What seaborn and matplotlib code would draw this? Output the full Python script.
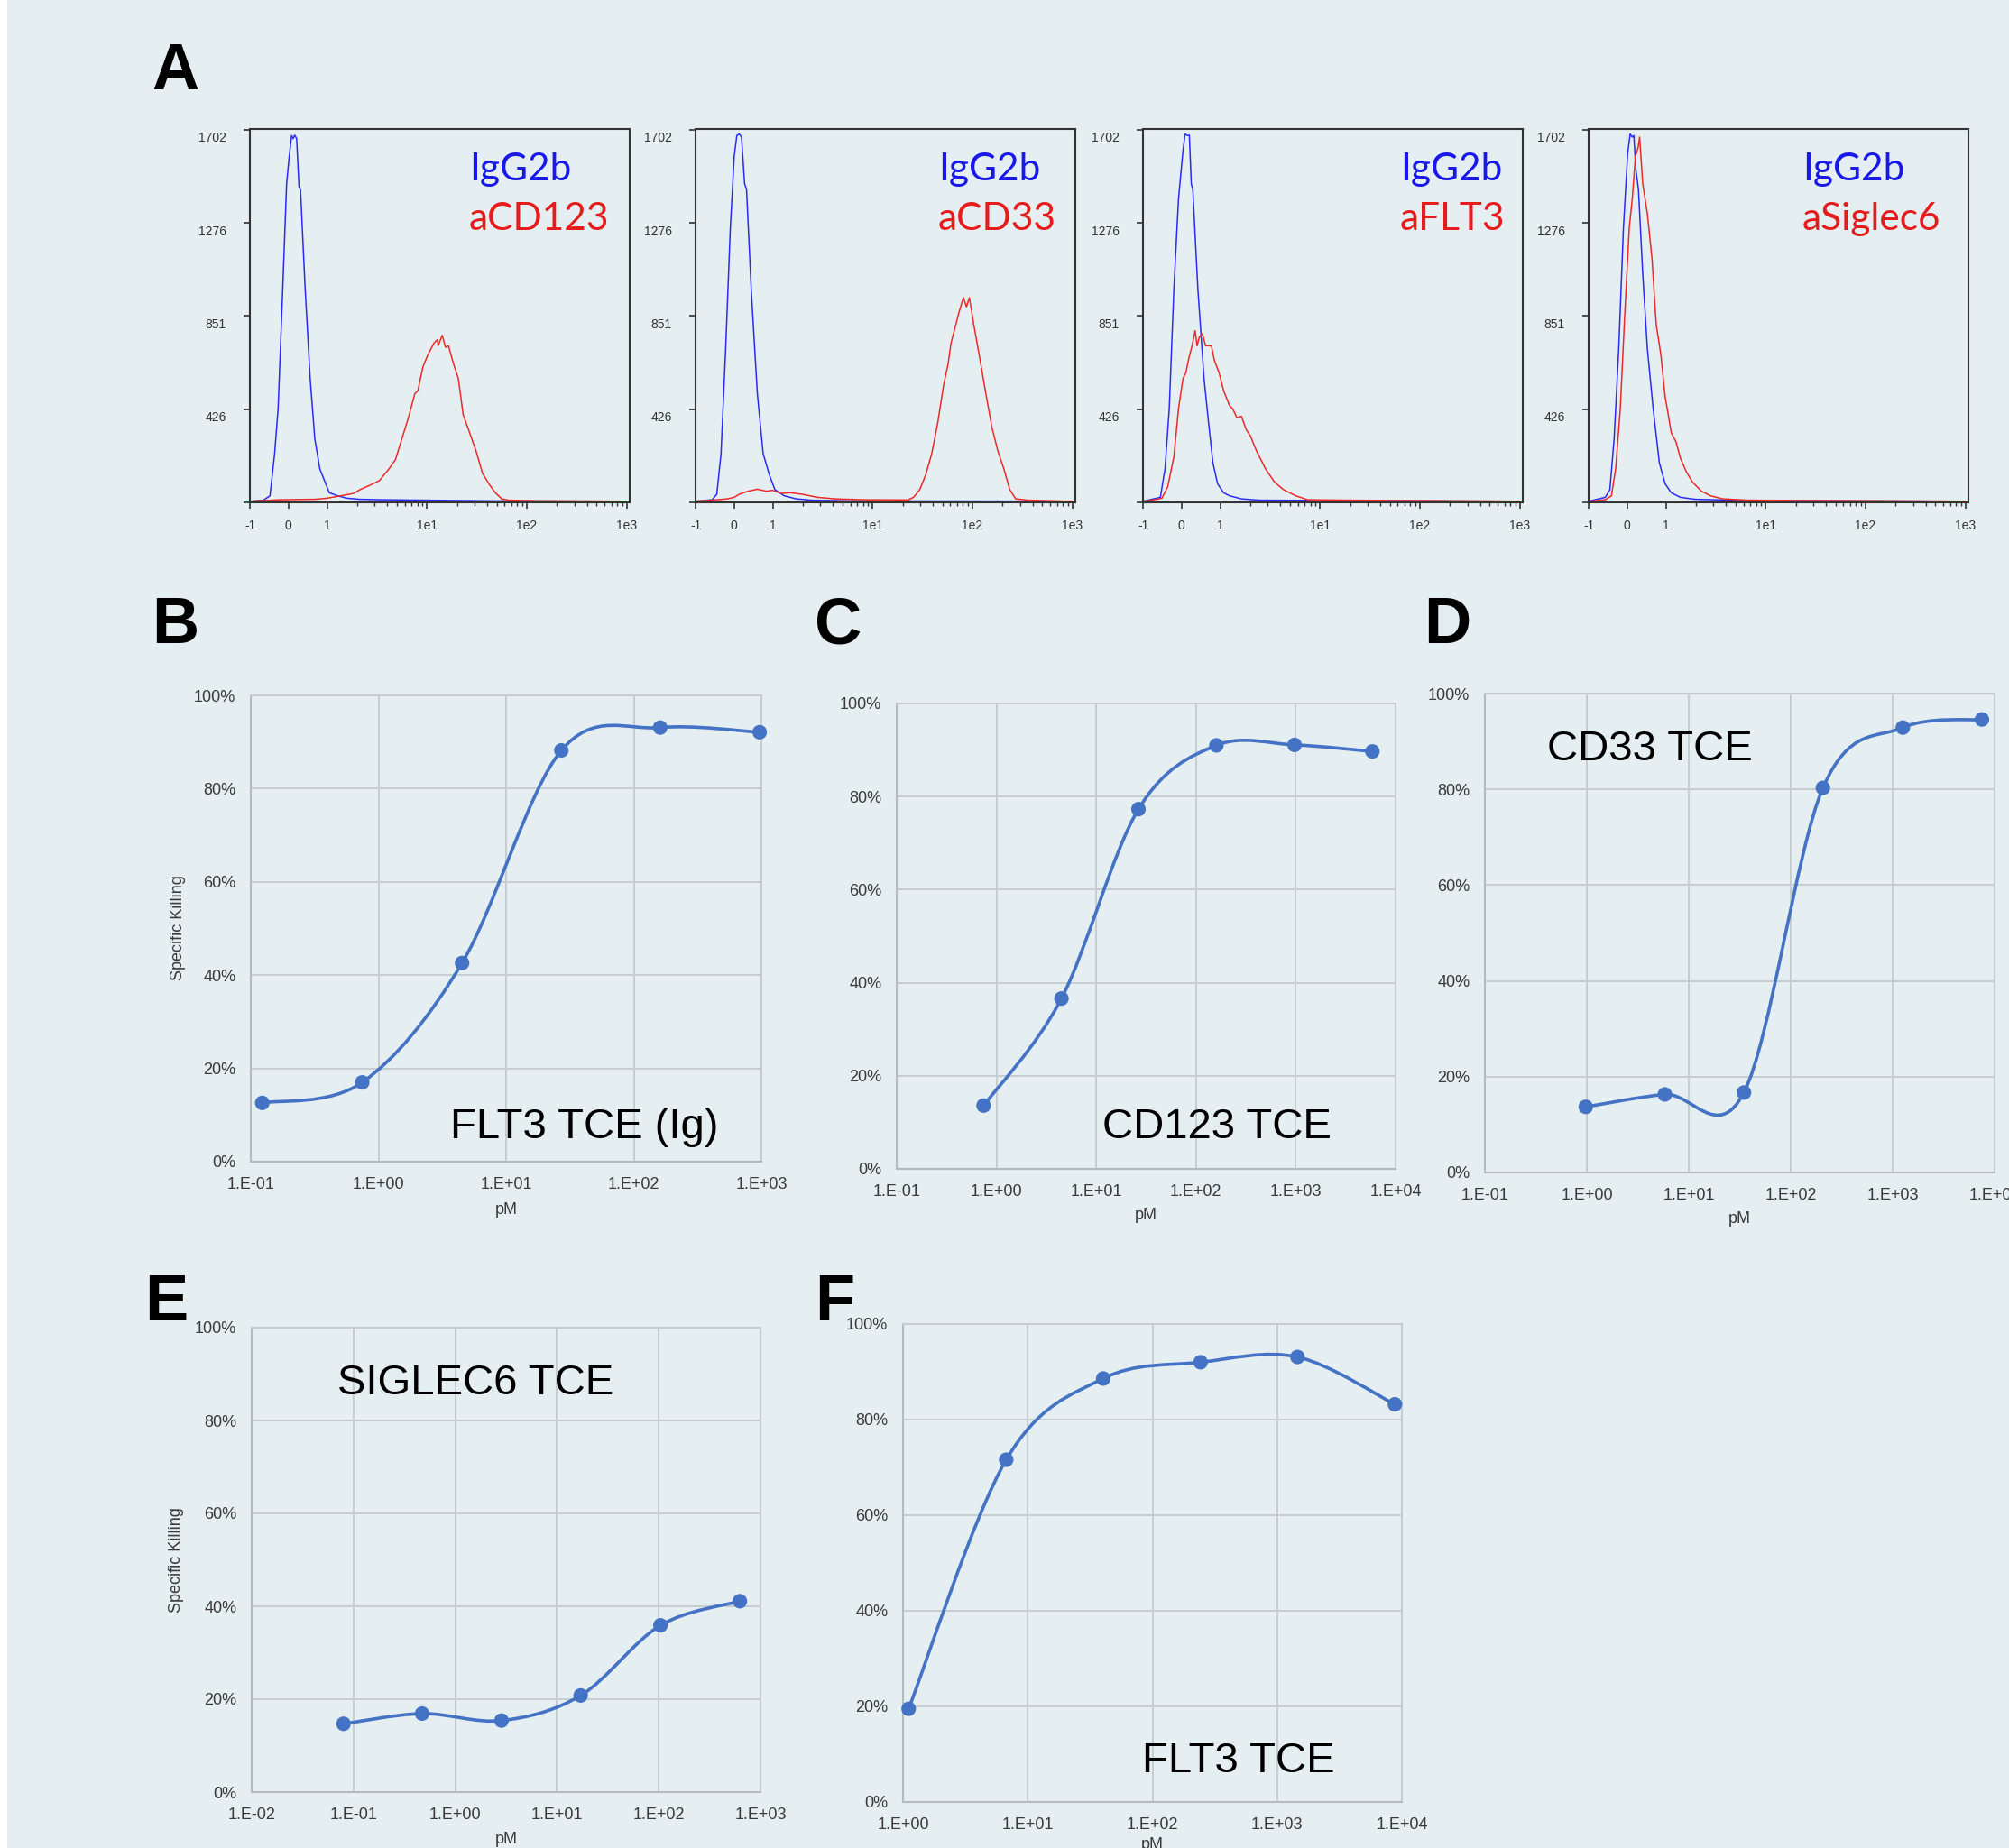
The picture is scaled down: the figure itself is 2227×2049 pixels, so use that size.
import numpy as np
import pandas as pd
import matplotlib
matplotlib.use("Agg")
import matplotlib.pyplot as plt
import seaborn as sns
from matplotlib.path import Path
from matplotlib.patches import PathPatch, Rectangle
from matplotlib.ticker import FixedLocator, NullLocator
from matplotlib.transforms import ScaledTranslation

# ---------------- data : panel A (flow histograms, counts) ----------------
a1_iso_x = [-1, -0.65, -0.48, -0.36, -0.27, -0.15, -0.05, 0.017, 0.08, 0.12, 0.16, 0.21, 0.27, 0.31,
            0.43, 0.56, 0.68, 0.81, 0.93, 1.05, 1.27, 1.58, 2.13, 3.6, 9.4, 41.6, 1000]
a1_iso_y = [5, 10, 30, 222, 428, 976, 1455, 1579, 1675, 1661, 1677, 1661, 1442, 1428,
            976, 565, 290, 153, 99, 44, 30, 19, 14, 12, 10, 7, 5]
a1_ab_x = [-1, -0.23, 0.68, 1.0, 1.37, 1.84, 2.13, 2.67, 3.33, 4.16, 4.83, 5.6, 6.5, 7.55, 8.1, 9.1,
           10.2, 11.8, 12.7, 12.9, 14.2, 15.3, 16.4, 18.4, 20.6, 23, 26.7, 30.9, 35.9, 41.6, 48.3,
           56, 65, 127, 1000]
a1_ab_y = [5, 12, 14, 19, 30, 41, 58, 78, 99, 153, 195, 290, 386, 496, 510, 619,
           674, 729, 743, 715, 763, 708, 715, 633, 565, 400, 318, 236, 133, 85, 44,
           16, 10, 7, 5]

a2_iso_x = [-1, -0.57, -0.45, -0.34, -0.22, -0.10, 0.0, 0.068, 0.13, 0.19, 0.27, 0.32, 0.44, 0.60,
            0.75, 0.91, 1.05, 1.30, 1.72, 2.44, 5.6, 1000]
a2_iso_y = [5, 12, 37, 222, 702, 1250, 1579, 1675, 1682, 1668, 1455, 1428, 976, 496,
            222, 126, 58, 30, 16, 10, 7, 5]
a2_ab_x = [-1, -0.57, -0.18, 0.0, 0.13, 0.36, 0.6, 0.83, 0.99, 1.22, 1.5, 1.97, 2.8, 4.2, 7.9,
           22.4, 25.7, 29.6, 34, 39, 44.7, 51.4, 57, 61, 68, 73, 81, 87, 93, 103, 118, 136,
           156, 179, 206, 236, 271, 357, 1000]
a2_ab_y = [5, 10, 16, 23, 37, 51, 60, 51, 55, 41, 44, 37, 23, 16, 12,
           11, 23, 58, 126, 222, 359, 537, 633, 729, 811, 866, 935, 893, 935, 811, 660, 496,
           345, 236, 153, 58, 16, 10, 5]

a3_iso_x = [-1, -0.55, -0.43, -0.32, -0.2, -0.08, 0.035, 0.09, 0.15, 0.2, 0.25, 0.29, 0.42, 0.58,
            0.70, 0.81, 0.93, 1.08, 1.24, 1.63, 2.47, 1000]
a3_iso_y = [5, 23, 153, 428, 976, 1387, 1606, 1682, 1675, 1677, 1455, 1428, 976, 565,
            359, 181, 85, 44, 30, 16, 10, 5]
a3_ab_x = [-1, -0.7, -0.51, -0.36, -0.2, -0.08, 0.035, 0.11, 0.19, 0.27, 0.35, 0.40, 0.46, 0.54,
           0.62, 0.77, 0.85, 0.97, 1.08, 1.24, 1.33, 1.47, 1.63, 1.82, 2.0, 2.3, 2.84, 3.5,
           4.3, 5.7, 7.5, 19.6, 1000]
a3_ab_y = [5, 12, 19, 71, 208, 428, 565, 592, 660, 715, 784, 715, 756, 770,
           715, 715, 647, 592, 510, 441, 428, 386, 393, 332, 304, 236, 153, 92,
           58, 30, 12, 10, 5]

a4_iso_x = [-1, -0.57, -0.45, -0.34, -0.22, -0.10, 0.01, 0.075, 0.13, 0.17, 0.22, 0.29, 0.40, 0.52,
            0.67, 0.83, 0.98, 1.13, 1.4, 1.97, 4.6, 21, 1000]
a4_iso_y = [5, 23, 58, 290, 702, 1250, 1593, 1682, 1668, 1675, 1524, 1428, 1044, 702,
            428, 181, 85, 44, 23, 14, 10, 8, 5]
a4_ab_x = [-1, -0.57, -0.41, -0.30, -0.18, -0.07, 0.05, 0.13, 0.21, 0.28, 0.32, 0.40, 0.52, 0.64,
           0.75, 0.87, 0.98, 1.05, 1.13, 1.26, 1.4, 1.6, 1.85, 2.27, 2.8, 3.7, 6.5, 1000]
a4_ab_y = [5, 12, 30, 153, 428, 839, 1250, 1387, 1579, 1620, 1668, 1455, 1318, 1113,
           811, 674, 482, 407, 318, 277, 201, 140, 92, 51, 30, 16, 10, 5]

hist_names = ["aCD123", "aCD33", "aFLT3", "aSiglec6"]
iso_name = "IgG2b"
hist_xticks = [-1, 0, 1, 10, 100, 1000]
hist_xticklabels = ["-1", "0", "1", "1e1", "1e2", "1e3"]
hist_yticks = [0, 426, 851, 1276, 1702]
hist_yticklabels = ["", "426", "851", "1276", "1702"]

# ---------------- data : panels B-F (specific killing, %) ----------------
B_conc = [0.123, 0.746, 4.52, 27.1, 161, 969]
B_kill = [12.6, 17.0, 42.6, 88.2, 93.1, 92.1]
C_conc = [0.743, 4.48, 26.5, 160, 972, 5860]
C_kill = [13.6, 36.6, 77.3, 91.0, 91.1, 89.7]
D_conc = [0.977, 5.83, 34.8, 207, 1259, 7516]
D_kill = [13.7, 16.3, 16.7, 80.3, 92.9, 94.6]
E_conc = [0.0798, 0.473, 2.85, 17.1, 104, 627]
E_kill = [14.7, 16.9, 15.4, 20.8, 35.9, 41.1]
F_conc = [1.11, 6.72, 40.3, 243, 1455, 8790]
F_kill = [19.5, 71.6, 88.6, 92.0, 93.1, 83.2]
titles = ["FLT3 TCE (Ig)", "CD123 TCE", "CD33 TCE", "SIGLEC6 TCE", "FLT3 TCE"]
pct_ticks = [0, 20, 40, 60, 80, 100]
pct_labels = ["0%", "20%", "40%", "60%", "80%", "100%"]

# ---------------- figure ----------------
W, H, DPI = 2227, 2049, 100
BG = "#e5eef0"
BLUE_H = "#2b2bf5"
RED_H = "#ec2a2a"
BLUE_T = "#1818e8"
RED_T = "#e61c1c"
XL_BLUE = "#4472c4"
GRID = "#c6cdd0"
AXC = "#b4bbbe"
TXT = "#3a3a3a"

sns.set_theme(style="white")
plt.rcParams["font.family"] = ["Liberation Sans", "DejaVu Sans"]

fig = plt.figure(figsize=(W / DPI, H / DPI), dpi=DPI, facecolor=BG)
fig.patches.append(Rectangle((0, 0), 8 / W, 1, transform=fig.transFigure, facecolor="white",
                             edgecolor="none", zorder=0))


def add_ax(l, t, r, b):
    ax = fig.add_axes([l / W, 1 - b / H, (r - l) / W, (b - t) / H])
    ax.set_facecolor("none")
    return ax


def ftext(x, y, s, **kw):
    return fig.text(x / W, 1 - y / H, s, **kw)


# panel letters
for letter, (lx, ly) in zip("ABCDEF", [(168, 99), (168, 713), (903, 713), (1578, 713), (160, 1464), (903, 1464)]):
    ftext(lx, ly, letter, fontsize=52, fontweight="bold", color="black", va="baseline", ha="left")

# ---------------- panel A ----------------
hist_boxes = [(277, 143, 698, 557), (771, 143, 1192, 557), (1267, 143, 1688, 557), (1761, 143, 2182, 557)]
hist_leg_x = [520, 1040, 1552, 1998]
hist_data = [(a1_iso_x, a1_iso_y, a1_ab_x, a1_ab_y), (a2_iso_x, a2_iso_y, a2_ab_x, a2_ab_y),
             (a3_iso_x, a3_iso_y, a3_ab_x, a3_ab_y), (a4_iso_x, a4_iso_y, a4_ab_x, a4_ab_y)]
minor_pos = [m * 10 ** e for e in range(0, 3) for m in range(2, 10)]
ylab_shift = ScaledTranslation(0, -8 / DPI, fig.dpi_scale_trans)

for box, (ix, iy, bx, by), name, lgx in zip(hist_boxes, hist_data, hist_names, hist_leg_x):
    ax = add_ax(*box)
    ax.set_xscale("symlog", linthresh=1, linscale=0.3483, base=10)
    sns.lineplot(x=ix, y=iy, sort=False, estimator=None, color=BLUE_H, lw=1.1, ax=ax)
    sns.lineplot(x=bx, y=by, sort=False, estimator=None, color=RED_H, lw=1.1, ax=ax)
    ax.set_xlim(-1, 1070)
    ax.set_ylim(0, 1705)
    ax.xaxis.set_major_locator(FixedLocator(hist_xticks))
    ax.set_xticklabels(hist_xticklabels)
    ax.xaxis.set_minor_locator(FixedLocator(minor_pos))
    ax.set_yticks(hist_yticks)
    ax.set_yticklabels(hist_yticklabels)
    ax.tick_params(axis="both", which="major", bottom=True, left=True, direction="out", length=5,
                   width=1.2, color="#333333", labelsize=10, labelcolor="#333333")
    ax.tick_params(axis="x", which="major", pad=9)
    ax.tick_params(axis="y", which="major", pad=14)
    ax.tick_params(axis="x", which="minor", bottom=True, direction="out", length=3, width=1.0, color="#333333")
    for sp in ax.spines.values():
        sp.set_visible(True)
        sp.set_color("#333333")
        sp.set_linewidth(1.5)
    ax.set_xlabel("")
    ax.set_ylabel("")
    for tk in ax.yaxis.get_major_ticks():
        tk.label1.set_transform(tk.label1.get_transform() + ylab_shift)
    ftext(lgx, 200, iso_name, color=BLUE_T, fontsize=30.5, family=["Lato", "DejaVu Sans"], va="baseline")
    ftext(lgx, 255, name, color=RED_T, fontsize=30.5, family=["Lato", "DejaVu Sans"], va="baseline")


# ---------------- panels B-F ----------------
def smooth_patch(ax, xs, ys, lxlim, ylim, wpx, hpx):
    lx = np.log10(np.asarray(xs, float))
    sx = wpx / (lxlim[1] - lxlim[0])
    sy = hpx / (ylim[1] - ylim[0])
    P = np.column_stack([lx * sx, np.asarray(ys, float) * sy])
    n = len(P)
    verts = [P[0]]
    codes = [Path.MOVETO]
    for i in range(n - 1):
        p0 = P[i - 1] if i > 0 else P[i]
        p1, p2 = P[i], P[i + 1]
        p3 = P[i + 2] if i + 2 < n else P[i + 1]
        verts += [p1 + (p2 - p0) / 6.0, p2 - (p3 - p1) / 6.0, p2]
        codes += [Path.CURVE4] * 3
    V = np.array(verts)
    V[:, 0] = 10 ** (V[:, 0] / sx)
    V[:, 1] = V[:, 1] / sy
    ax.add_patch(PathPatch(Path(V, codes), fill=False, edgecolor=XL_BLUE, lw=2.6,
                           capstyle="round", joinstyle="round", zorder=2))


kill_boxes = [(278, 771, 844, 1288), (994, 780, 1547, 1296), (1646, 769, 2211, 1300),
              (279, 1472, 843, 1987), (1001, 1468, 1554, 1998)]
kill_xlims = [(-1, 3), (-1, 4), (-1, 4), (-2, 3), (0, 4)]
kill_data = [(B_conc, B_kill), (C_conc, C_kill), (D_conc, D_kill), (E_conc, E_kill), (F_conc, F_kill)]
title_pos = [(499, 1262), (1222, 1262), (1715, 843), (374, 1546), (1266, 1965)]
pm_pos = [(561, 1341), (1270, 1347), (1928, 1351), (561, 2040), (1277, 2046)]
ylab_pos = [(198, 1029), None, None, (196, 1730), None]


def etick(e):
    return "1.E%s%02d" % ("-" if e < 0 else "+", abs(e))


for box, (xs, ys), xl, title, tp, pp, yl in zip(kill_boxes, kill_data, kill_xlims, titles,
                                                 title_pos, pm_pos, ylab_pos):
    ax = add_ax(*box)
    ax.set_xscale("log")
    ax.set_xlim(10.0 ** xl[0], 10.0 ** xl[1])
    ax.set_ylim(0, 100)
    dec = list(range(xl[0], xl[1] + 1))
    ax.xaxis.set_major_locator(FixedLocator([10.0 ** e for e in dec]))
    ax.xaxis.set_minor_locator(NullLocator())
    ax.set_xticklabels([etick(e) for e in dec])
    ax.set_yticks(pct_ticks)
    ax.set_yticklabels(pct_labels)
    ax.grid(True, which="major", color=GRID, lw=1.4)
    ax.set_axisbelow(True)
    for k, sp in ax.spines.items():
        sp.set_visible(True)
        sp.set_color(AXC if k in ("left", "bottom") else GRID)
        sp.set_linewidth(1.5)
    ax.tick_params(axis="both", which="both", length=0, labelsize=13, labelcolor=TXT)
    ax.tick_params(axis="x", pad=12)
    ax.tick_params(axis="y", pad=12)
    smooth_patch(ax, xs, ys, xl, (0, 100), box[2] - box[0], box[3] - box[1])
    sns.scatterplot(x=xs, y=ys, ax=ax, color=XL_BLUE, s=135, edgecolor="none", zorder=3, clip_on=False)
    ax.set_xlabel("")
    ax.set_ylabel("")
    ftext(tp[0], tp[1], title, fontsize=34, color="black", va="baseline", ha="left")
    ftext(pp[0], pp[1], "pM", fontsize=13, color=TXT, va="center", ha="center")
    if yl is not None:
        ftext(yl[0], yl[1], "Specific Killing", fontsize=13, color=TXT, rotation=90,
              va="center", ha="center")

fig.savefig("out.png", dpi=DPI, facecolor=BG)
